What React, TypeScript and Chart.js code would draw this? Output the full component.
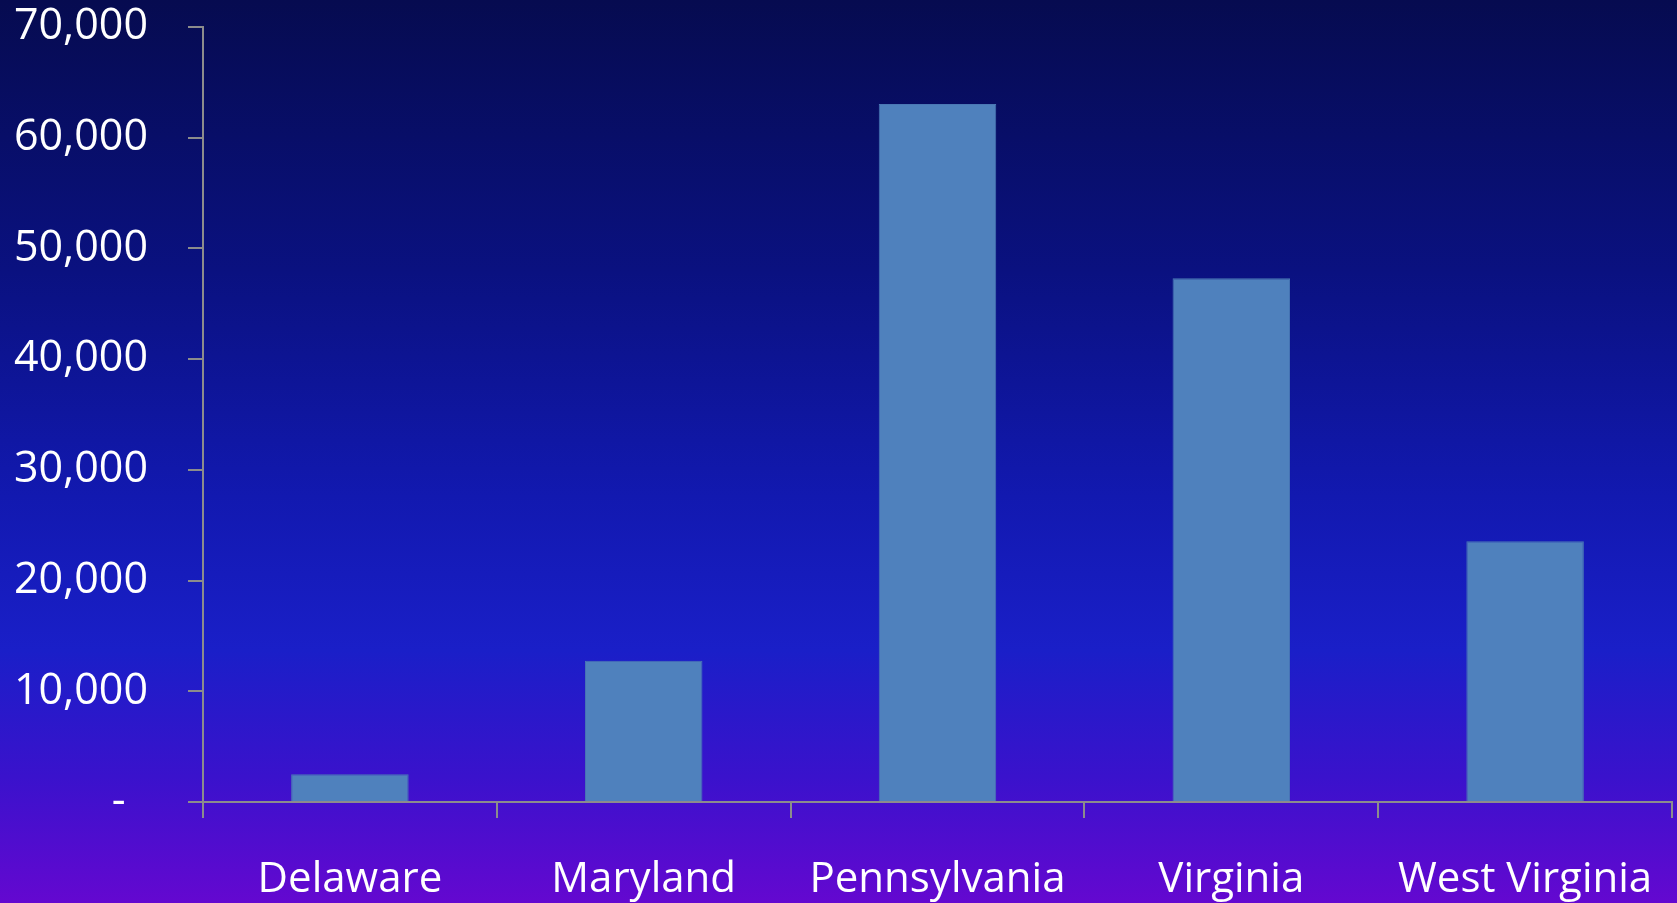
import React, { useEffect, useRef } from "react";
import { Chart, registerables } from "chart.js";

Chart.register(...registerables);

const categories = ["Delaware", "Maryland", "Pennsylvania", "Virginia", "West Virginia"];
const values = [2500, 12750, 63050, 47300, 23550];
const yTicks = [0, 10000, 20000, 30000, 40000, 50000, 60000, 70000];

const fmt = (v: number) => (v === 0 ? "-  " : v.toLocaleString("en-US"));

export default function App() {
  const ref = useRef<HTMLCanvasElement | null>(null);
  useEffect(() => {
    document.body.style.margin = "0";
    const ctx = ref.current!;
    const axisColor = "#8c8c8c";
    const chart = new Chart(ctx, {
      type: "bar",
      data: {
        labels: categories,
        datasets: [
          {
            data: values,
            backgroundColor: "#4f81bd",
            borderColor: "#4a78b4",
            borderWidth: 1,
            categoryPercentage: 1,
            barPercentage: 0.4,
          },
        ],
      },
      options: {
        animation: false,
        responsive: false,
        maintainAspectRatio: false,
        layout: { padding: { top: 27, right: 5, left: 0, bottom: 0 } },
        plugins: { legend: { display: false }, tooltip: { enabled: false } },
        scales: {
          x: {
            grid: {
              offset: true,
              drawOnChartArea: false,
              drawTicks: true,
              tickLength: 16,
              color: axisColor,
              lineWidth: 2,
            },
            border: { display: true, color: axisColor, width: 2 },
            ticks: {
              color: "#ffffff",
              font: { family: "'Open Sans'", size: 42 },
              padding: 37,
              maxRotation: 0,
              autoSkip: false,
            },
            afterFit: (s: any) => {
              s.height = 101;
              s.paddingLeft = 0;
              s.paddingRight = 0;
            },
          },
          y: {
            min: 0,
            max: 70000,
            afterBuildTicks: (s: any) => {
              s.ticks = yTicks.map((v) => ({ value: v }));
            },
            grid: {
              drawOnChartArea: false,
              drawTicks: true,
              tickLength: 15,
              color: axisColor,
              lineWidth: 2,
            },
            border: { display: true, color: axisColor, width: 2 },
            ticks: {
              color: "#ffffff",
              font: { family: "'Open Sans'", size: 43 },
              padding: 40,
              callback: (v: any) => fmt(Number(v)),
            },
            afterFit: (s: any) => {
              s.width = 203;
              s.paddingTop = 20;
              s.paddingBottom = 20;
            },
          },
        },
      },
    });
    return () => chart.destroy();
  }, []);
  return (
    <div
      style={{
        position: "fixed",
        left: 0,
        top: 0,
        width: 1677,
        height: 903,
        background:
          "linear-gradient(to bottom, #060b50 0%, #0a1180 30%, #1219b0 55%, #1a1fc8 72%, #3a12cc 86%, #6408d0 100%)",
      }}
    >
      <canvas ref={ref} width={1677} height={903} style={{ display: "block" }} />
    </div>
  );
}
